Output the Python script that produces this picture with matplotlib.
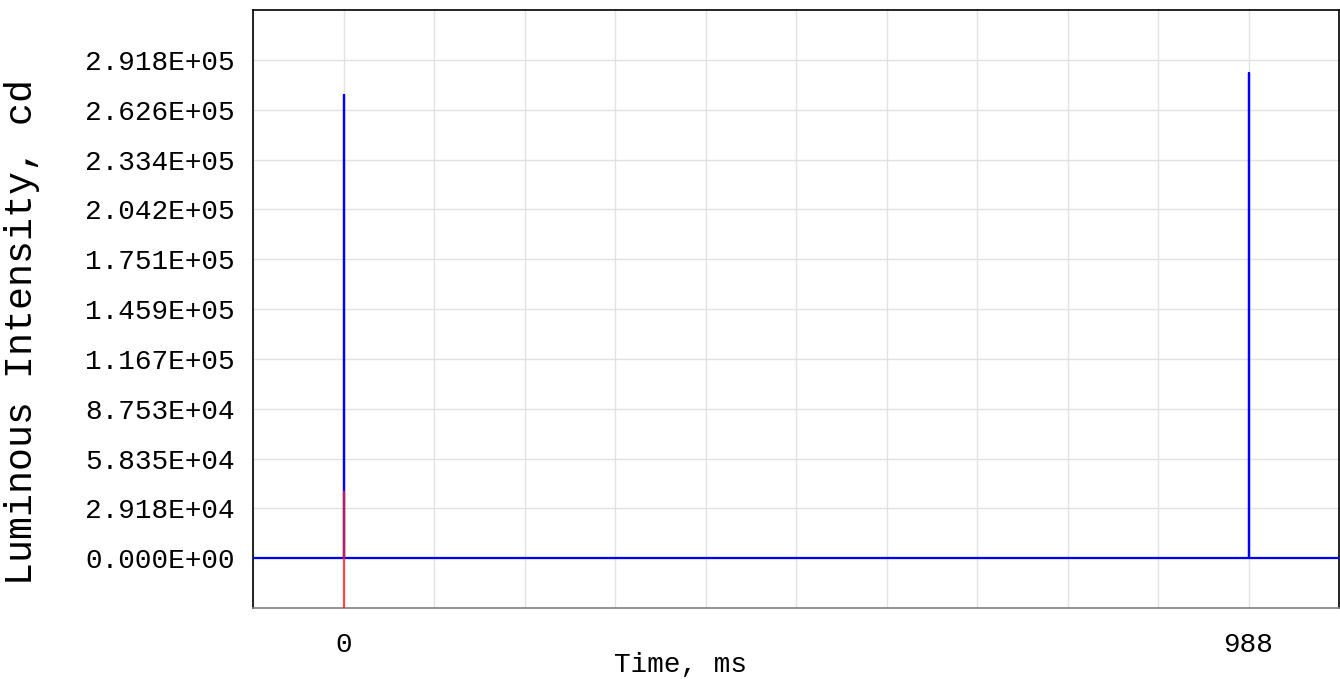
import numpy as np
import matplotlib
matplotlib.use('Agg')
import matplotlib.pyplot as plt
from matplotlib.ticker import FixedLocator

# flash pulse capture, time in ms, intensity in cd
blue_time = [-120, 0, 0, 0, 988, 988, 988, 1120]
blue_value = [0, 0, 271300, 0, 0, 284200, 0, 0]

red_time = [0, 0]
red_value = [-40000, 38500]

y_tick_values = [0, 29176, 58352, 87528, 116704, 145880, 175056, 204232,
                 233408, 262584, 291760]
y_tick_labels = ['0.000E+00', '2.918E+04', '5.835E+04', '8.753E+04',
                 '1.167E+05', '1.459E+05', '1.751E+05', '2.042E+05',
                 '2.334E+05', '2.626E+05', '2.918E+05']
x_tick_values = [0, 988]
x_tick_labels = ['0', '988']

plt.rcParams['font.family'] = ['Liberation Mono', 'DejaVu Sans Mono']

fig = plt.figure(figsize=(13.4, 6.79), dpi=100)
ax = fig.add_axes([253 / 1340, 1 - 608 / 679, 1086 / 1340, 598 / 679])

ax.plot(blue_time, blue_value, color='#0000ff', lw=1.6, zorder=3)
ax.plot(red_time, red_value, color='#ff2020', lw=1.6, alpha=0.8, zorder=4)

ax.set_xlim(-98.8, 1086.8)
ax.set_ylim(-29176, 320936)

ax.set_yticks(y_tick_values)
ax.set_yticklabels(y_tick_labels)
ax.set_xticks(x_tick_values)
ax.set_xticklabels(x_tick_labels)
ax.xaxis.set_minor_locator(FixedLocator(np.arange(-98.8, 1090, 98.8)))

ax.grid(which='both', axis='x', color='#e2e2e2', lw=1)
ax.grid(which='major', axis='y', color='#e2e2e2', lw=1)
ax.set_axisbelow(True)
ax.tick_params(which='both', length=0, labelsize=20)
ax.tick_params(axis='y', pad=13)
ax.tick_params(axis='x', pad=17)

for side in ['left', 'top', 'right']:
    ax.spines[side].set_color('black')
    ax.spines[side].set_linewidth(1.2)
ax.spines['bottom'].set_color('#808080')
ax.spines['bottom'].set_linewidth(1.2)

fig.text(0.508, 0.021, 'Time, ms', fontsize=20, ha='center', va='center')
fig.text(0.0165, 0.511, 'Luminous Intensity, cd', fontsize=27.5, rotation=90,
         ha='center', va='center')

fig.savefig('out.png', dpi=100)
